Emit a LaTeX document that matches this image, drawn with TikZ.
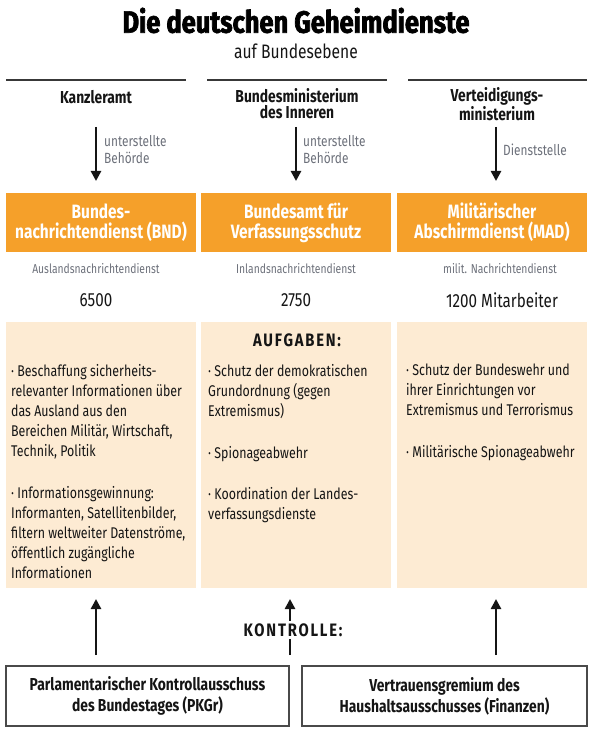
\documentclass[tikz,border=0pt]{standalone}
\usepackage{fontspec}
\setmainfont{Fira Sans}[FakeStretch=0.8]
\newfontfamily\titlefont{Fira Sans}[FakeStretch=0.62,FakeBold=1.8]
\newfontfamily\spacedfont{Fira Sans}[FakeStretch=0.82,LetterSpace=10]
\usetikzlibrary{arrows.meta}
\definecolor{orng}{HTML}{F5A02A}
\definecolor{beige}{HTML}{FDEBD3}
\definecolor{grayt}{HTML}{6C707A}
\definecolor{ink}{HTML}{151515}
\definecolor{boxline}{HTML}{4A4A4A}
\tikzset{
 header/.style={font=\bfseries\fontsize{17.3}{16}\selectfont, align=center, text=ink, inner sep=0},
 arr/.style={line width=2.6pt, -{Triangle[width=10pt,length=10pt]}, draw=ink},
 note/.style={font=\fontsize{14.8}{17}\selectfont, text=grayt, align=left, inner sep=0, anchor=west},
 svcbox/.style={fill=orng, minimum width=190pt, minimum height=59pt, text=white, font=\bfseries\fontsize{19.3}{20}\selectfont, align=center, inner sep=0},
 subl/.style={font=\fontsize{12.9}{14}\selectfont, text=grayt, inner sep=0},
 staff/.style={font=\fontsize{19}{18}\selectfont, text=ink, inner sep=0},
 taskbox/.style={fill=beige, minimum width=190pt, minimum height=266pt, inner sep=0},
 tasks/.style={font=\fontsize{15.5}{20}\selectfont, text=ink, align=left, inner sep=0, anchor=north west},
 ctrlbox/.style={draw=boxline, line width=1.3pt, minimum height=60pt, font=\bfseries\fontsize{17.3}{21}\selectfont, align=center, text=ink, inner sep=0},
 rulel/.style={line width=1.2pt, draw=ink!85},
 spaced/.style={font=\bfseries\spacedfont\fontsize{18}{18}\selectfont, text=ink, inner sep=2pt}
}
\begin{document}
\begin{tikzpicture}[x=1pt,y=-1pt]
\useasboundingbox (0,0) rectangle (592,730);
% title
\node[inner sep=0] (title) at (296,20.5) {\resizebox{347pt}{25pt}{\titlefont\bfseries Die deutschen Geheimdienste}};
\node[font=\fontsize{19.5}{20}\selectfont, text=ink, inner sep=0] (subtitle) at (296,51.5) {auf Bundesebene};
% rules
\draw[rulel] (6,80) -- (186,80);
\draw[rulel] (207,80) -- (387,80);
\draw[rulel] (408,80) -- (587,80);
% ministries
\node[header] (kanz) at (96,97) {Kanzleramt};
\node[header] (bmi) at (297,104) {Bundesministerium\\des Inneren};
\node[header] (bmvg) at (497,104) {Verteidigungs-\\ministerium};
% services
\node[svcbox] (bnd) at (101,222.5) {Bundes-\\nachrichtendienst (BND)};
\node[svcbox] (bfv) at (296,222.5) {Bundesamt für\\Verfassungsschutz};
\node[svcbox] (mad) at (492,222.5) {Militärischer\\Abschirmdienst (MAD)};
% arrows down
\coordinate (a1s) at (96,127); \coordinate (a1e) at (96,181);
\coordinate (a2s) at (296,127); \coordinate (a2e) at (296,181);
\coordinate (a3s) at (496,127); \coordinate (a3e) at (496,181);
\draw[arr] (a1s) -- (a1e);
\draw[arr] (a2s) -- (a2e);
\draw[arr] (a3s) -- (a3e);
\node[note] (n1) at (104,150) {unterstellte\\Behörde};
\node[note] (n2) at (303,150) {unterstellte\\Behörde};
\node[note] (n3) at (503,150) {Dienststelle};
% sub labels
\node[subl] (s1) at (96,269) {Auslandsnachrichtendienst};
\node[subl] (s2) at (296,269) {Inlandsnachrichtendienst};
\node[subl] (s3) at (500,269) {milit. Nachrichtendienst};
\node[staff] (m1) at (96,300) {6500};
\node[staff] (m2) at (296,300) {2750};
\node[staff] (m3) at (502,300) {1200 Mitarbeiter};
% task boxes
\node[taskbox] (t1) at (101,455) {};
\node[taskbox] (t2) at (296,455) {};
\node[taskbox] (t3) at (492,455) {};
\node[spaced] (aufg) at (297,340) {AUFGABEN:};
\node[tasks] (tx1) at (11,364) {· Beschaffung sicherheits-\\relevanter Informationen über\\das Ausland aus den\\Bereichen Militär, Wirtschaft,\\Technik, Politik\\[22pt]· Informationsgewinnung:\\Informanten, Satellitenbilder,\\filtern weltweiter Datenströme,\\öffentlich zugängliche\\Informationen};
\node[tasks] (tx2) at (208,364) {· Schutz der demokratischen\\Grundordnung (gegen\\Extremismus)\\[22pt]· Spionageabwehr\\[21pt]· Koordination der Landes-\\verfassungsdienste};
\node[tasks] (tx3) at (406,364) {· Schutz der Bundeswehr und\\ihrer Einrichtungen vor\\Extremismus und Terrorismus\\[22pt]· Militärische Spionageabwehr};
% control
\node[ctrlbox, minimum width=283pt] (pkgr) at (147.5,696) {Parlamentarischer Kontrollausschuss\\des Bundestages (PKGr)};
\node[ctrlbox, minimum width=285pt] (vg) at (444.5,696) {Vertrauensgremium des\\Haushaltsausschusses (Finanzen)};
\coordinate (b1s) at (96,655); \coordinate (b1e) at (96,599);
\coordinate (b2s) at (290,655); \coordinate (b2e) at (290,599);
\coordinate (b3s) at (496,655); \coordinate (b3e) at (496,599);
\draw[arr] (b1s) -- (b1e);
\draw[arr] (b2s) -- (b2e);
\draw[arr] (b3s) -- (b3e);
\node[spaced, fill=white] (kontr) at (293,630) {KONTROLLE:};
\end{tikzpicture}
\end{document}
